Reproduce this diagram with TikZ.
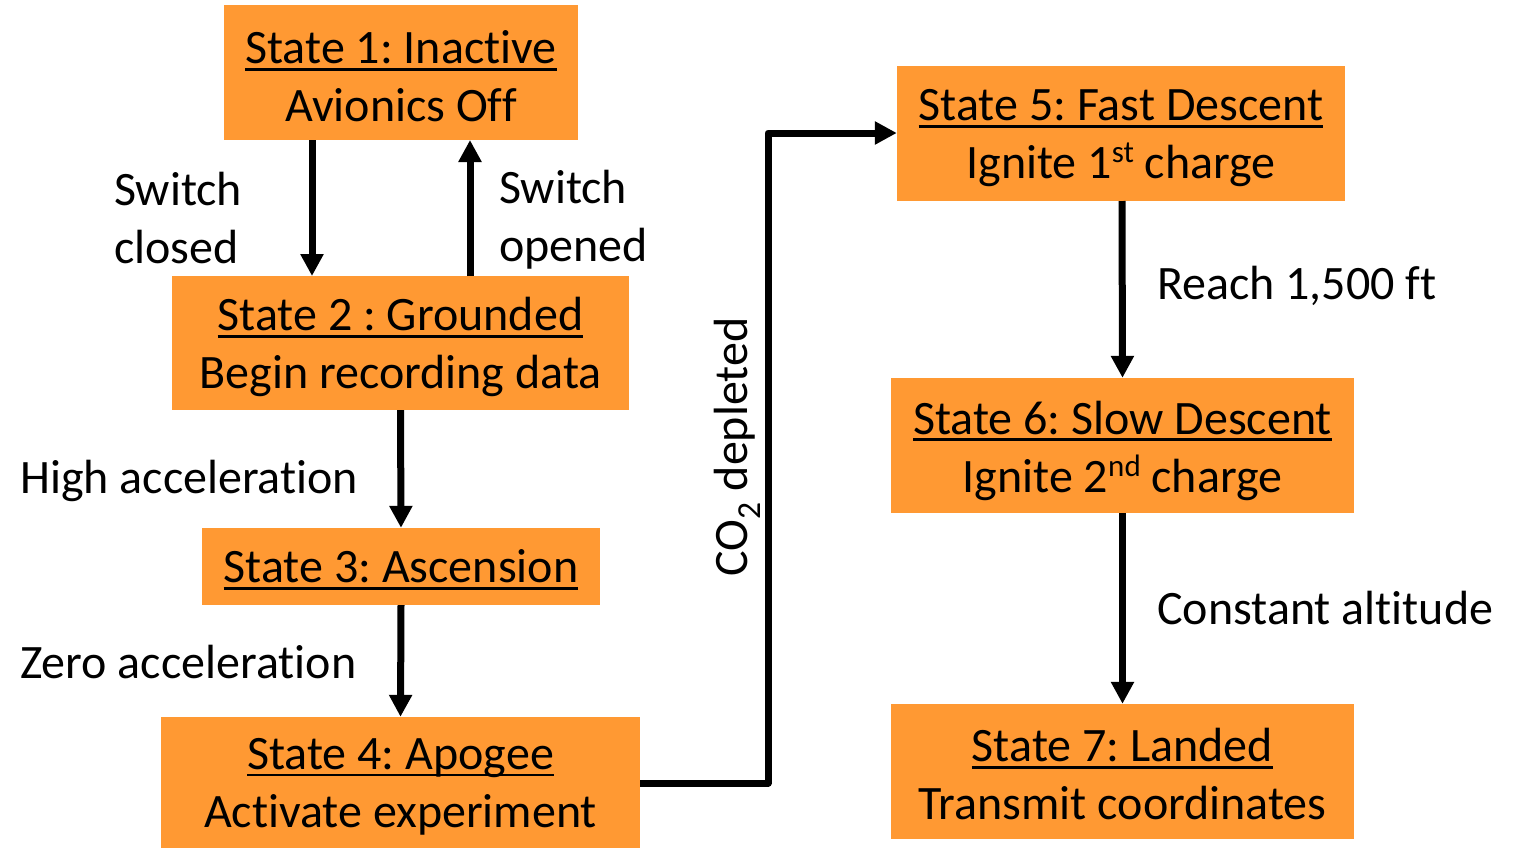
\documentclass[tikz,border=0pt]{standalone}
\usepackage{fontspec}
\setmainfont{Carlito}[Ligatures={NoCommon,NoRequired,NoContextual}]
\usetikzlibrary{arrows.meta}
\definecolor{boxorange}{RGB}{255,153,51}
\frenchspacing
\newcommand{\myul}[1]{\setbox0\hbox{#1}\rlap{\raisebox{-7pt}{\rule{\wd0}{2.6pt}}}\box0}
\newcommand{\mysup}[1]{\raisebox{16pt}{\fontsize{31}{31}\selectfont #1}}
\begin{document}
\begin{tikzpicture}[x=1pt,y=-1pt,
  statebox/.style={fill=boxorange, inner sep=0pt},
  boxtxt/.style={inner sep=0pt, align=center, font=\fontsize{48}{58}\selectfont},
  lbl/.style={inner sep=0pt, align=left, font=\fontsize{48}{58}\selectfont},
  arr/.style={line width=7pt, -{Triangle[length=22pt,width=22pt]}}]
\useasboundingbox (0,0) rectangle (1521,849);
\node[statebox, minimum width=354pt, minimum height=135pt] (s1) at (401,72.5) {};
\node[statebox, minimum width=457pt, minimum height=134pt] (s2) at (400.5,343) {};
\node[statebox, minimum width=398pt, minimum height=77pt] (s3) at (401,566.5) {};
\node[statebox, minimum width=479pt, minimum height=131pt] (s4) at (400.5,782.5) {};
\node[statebox, minimum width=448pt, minimum height=135pt] (s5) at (1121,133.5) {};
\node[statebox, minimum width=463pt, minimum height=135pt] (s6) at (1122.5,445.5) {};
\node[statebox, minimum width=463pt, minimum height=135pt] (s7) at (1122.5,771.5) {};

\node[boxtxt] (t1) at ([yshift=-4pt]s1.center) {\myul{State 1: Inactive}\\Avionics Off};
\node[boxtxt] (t2) at ([yshift=-4pt]s2.center) {\myul{State 2 : Grounded}\\Begin recording data};
\node[boxtxt] (t3) at ([yshift=-3pt]s3.center) {\myul{State 3: Ascension}};
\node[boxtxt] (t4) at ([yshift=-4pt]s4.center) {\myul{State 4: Apogee}\\Activate experiment};
\node[boxtxt] (t5) at ([yshift=-5pt]s5.center) {\myul{State 5: Fast Descent}\\Ignite 1\mysup{st} charge};
\node[boxtxt] (t6) at ([yshift=-5pt]s6.center) {\myul{State 6: Slow Descent}\\Ignite 2\mysup{nd} charge};
\node[boxtxt] (t7) at ([yshift=-3pt]s7.center) {\myul{State 7: Landed}\\Transmit coordinates};

\draw[arr] (312,140) -- (312,276);
\draw[arr] (470,276) -- (470,140);
\draw[arr] (s2.south) -- (s3.north);
\draw[arr] (s3.south) -- (s4.north);
\draw[arr, line join=round] (s4.east |- 0,783) -- (768,783) -- (768,133) -- (s5.west |- 0,133);
\draw[arr] (1122,201) -- (s6.north);
\draw[arr] (s6.south) -- (s7.north);

\node[lbl, anchor=north west] (l1) at (114,172) {Switch\\closed};
\node[lbl, anchor=north west] (l2) at (499,170) {Switch\\opened};
\node[lbl, anchor=west] (l3) at (20,481) {High acceleration};
\node[lbl, anchor=west] (l4) at (20,662) {Zero acceleration};
\node[lbl, rotate=90] (l5) at (737,447) {CO\textsubscript{2} depleted};
\node[lbl, anchor=west] (l6) at (1157,286) {Reach 1,500 ft};
\node[lbl, anchor=west] (l7) at (1157,608) {Constant altitude};
\end{tikzpicture}
\end{document}
